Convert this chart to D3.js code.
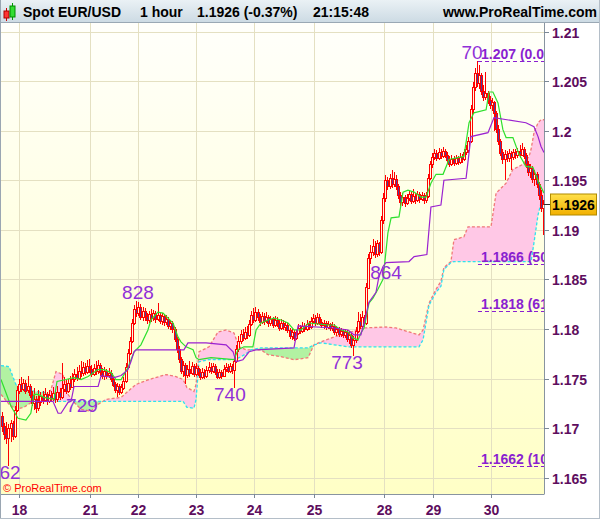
<!doctype html>
<html>
<head>
<meta charset="utf-8">
<title>Spot EUR/USD 1 hour</title>
<script src="https://d3js.org/d3.v7.min.js"></script>
<style>
body { margin: 0; background: #fff; }
svg { display: block; font-family: Arial, "Liberation Sans", sans-serif; }
</style>
</head>
<body>
<script>
// hourly candles, open = previous close
var firstOpen = 1.1712;
var closes = [1.1702,1.1694,1.1690,1.1700,1.1705,1.1692,1.1718,1.1738,1.1745,1.1740,
1.1746,1.1738,1.1742,1.1733,1.1725,1.1729,1.1720,1.1726,1.1732,1.1728,
1.1734,1.1727,1.1733,1.1730,1.1735,1.1729,1.1736,1.1731,1.1740,1.1745,
1.1738,1.1746,1.1742,1.1750,1.1755,1.1751,1.1758,1.1756,1.1762,1.1757,
1.1763,1.1760,1.1755,1.1761,1.1758,1.1764,1.1757,1.1753,1.1758,1.1754,
1.1756,1.1750,1.1744,1.1738,1.1742,1.1736,1.1741,1.1748,1.1762,1.1776,
1.1788,1.1806,1.1820,1.1816,1.1822,1.1812,1.1818,1.1813,1.1809,1.1815,
1.1811,1.1816,1.1810,1.1814,1.1808,1.1813,1.1807,1.1810,1.1803,1.1806,
1.1800,1.1790,1.1780,1.1770,1.1758,1.1764,1.1754,1.1760,1.1756,1.1763,
1.1755,1.1761,1.1757,1.1752,1.1757,1.1753,1.1759,1.1762,1.1758,1.1763,
1.1757,1.1752,1.1757,1.1753,1.1760,1.1762,1.1758,1.1763,1.1759,1.1768,
1.1780,1.1788,1.1795,1.1791,1.1797,1.1794,1.1805,1.1814,1.1809,1.1817,
1.1812,1.1807,1.1813,1.1808,1.1812,1.1806,1.1810,1.1804,1.1809,1.1806,
1.1801,1.1806,1.1802,1.1804,1.1799,1.1793,1.1797,1.1791,1.1796,1.1801,
1.1798,1.1803,1.1800,1.1805,1.1802,1.1808,1.1811,1.1806,1.1812,1.1807,
1.1804,1.1806,1.1802,1.1805,1.1801,1.1803,1.1797,1.1800,1.1795,1.1798,
1.1794,1.1797,1.1790,1.1794,1.1784,1.1789,1.1798,1.1808,1.1803,1.1812,
1.1806,1.1842,1.1872,1.1878,1.1884,1.1876,1.1887,1.1878,1.1910,1.1932,
1.1950,1.1944,1.1952,1.1946,1.1951,1.1944,1.1935,1.1928,1.1933,1.1927,
1.1932,1.1936,1.1929,1.1934,1.1930,1.1936,1.1931,1.1935,1.1930,1.1934,
1.1952,1.1966,1.1973,1.1977,1.1972,1.1978,1.1974,1.1979,1.1975,1.1970,
1.1966,1.1971,1.1967,1.1972,1.1968,1.1973,1.1971,1.1978,1.1981,1.1990,
1.2022,1.2044,1.2058,1.2048,1.2056,1.2040,1.2034,1.2038,1.2031,1.2026,
1.2029,1.2018,1.2002,1.1990,1.1978,1.1971,1.1976,1.1972,1.1977,1.1973,
1.1978,1.1975,1.1979,1.1976,1.1982,1.1975,1.1966,1.1958,1.1962,1.1951,
1.1956,1.1946,1.1935,1.1922,1.1926];
var highs = [1.1716,1.1705,1.1706,1.1704,1.1708,1.1707,1.1722,1.1742,1.1750,1.1752,
1.1750,1.1749,1.1753,1.1745,1.1737,1.1740,1.1732,1.1738,1.1736,1.1737,
1.1740,1.1736,1.1738,1.1737,1.1741,1.1738,1.1742,1.1740,1.1766,1.1752,
1.1749,1.1750,1.1753,1.1756,1.1760,1.1762,1.1764,1.1768,1.1767,1.1766,
1.1769,1.1770,1.1764,1.1765,1.1768,1.1769,1.1766,1.1761,1.1762,1.1760,
1.1761,1.1759,1.1752,1.1747,1.1746,1.1745,1.1744,1.1752,1.1766,1.1780,
1.1792,1.1810,1.1824,1.1828,1.1827,1.1825,1.1822,1.1821,1.1816,1.1818,
1.1820,1.1819,1.1818,1.1826,1.1817,1.1816,1.1815,1.1814,1.1812,1.1809,
1.1808,1.1802,1.1792,1.1783,1.1772,1.1768,1.1766,1.1764,1.1768,1.1767,
1.1765,1.1766,1.1763,1.1760,1.1761,1.1760,1.1763,1.1767,1.1766,1.1766,
1.1765,1.1760,1.1760,1.1759,1.1764,1.1766,1.1765,1.1766,1.1765,1.1772,
1.1784,1.1793,1.1799,1.1800,1.1802,1.1803,1.1809,1.1818,1.1821,1.1822,
1.1820,1.1815,1.1817,1.1816,1.1817,1.1814,1.1813,1.1812,1.1813,1.1812,
1.1809,1.1810,1.1809,1.1807,1.1806,1.1801,1.1800,1.1799,1.1799,1.1805,
1.1804,1.1807,1.1806,1.1809,1.1808,1.1812,1.1815,1.1814,1.1816,1.1815,
1.1810,1.1809,1.1808,1.1808,1.1806,1.1807,1.1805,1.1803,1.1802,1.1801,
1.1800,1.1800,1.1799,1.1798,1.1796,1.1793,1.1802,1.1817,1.1815,1.1818,
1.1814,1.1846,1.1876,1.1885,1.1891,1.1889,1.1890,1.1888,1.1914,1.1937,
1.1955,1.1953,1.1956,1.1960,1.1958,1.1955,1.1946,1.1938,1.1937,1.1935,
1.1936,1.1940,1.1938,1.1941,1.1937,1.1939,1.1938,1.1938,1.1937,1.1938,
1.1956,1.1969,1.1977,1.1982,1.1980,1.1983,1.1981,1.1984,1.1981,1.1978,
1.1974,1.1975,1.1974,1.1975,1.1974,1.1977,1.1976,1.1982,1.1986,1.1994,
1.2026,1.2049,1.2063,1.2070,1.2066,1.2058,1.2046,1.2059,1.2040,1.2035,
1.2033,1.2030,1.2020,1.2006,1.1992,1.1982,1.1980,1.1979,1.1981,1.1979,
1.1982,1.1981,1.1983,1.1986,1.1988,1.1984,1.1977,1.1969,1.1966,1.1964,
1.1960,1.1958,1.1948,1.1940,1.1930];
var lows = [1.1696,1.1688,1.1684,1.1662,1.1686,1.1688,1.1690,1.1716,1.1734,1.1736,
1.1737,1.1734,1.1735,1.1730,1.1722,1.1718,1.1715,1.1717,1.1722,1.1724,
1.1726,1.1723,1.1725,1.1726,1.1727,1.1725,1.1726,1.1728,1.1729,1.1736,
1.1734,1.1735,1.1738,1.1740,1.1747,1.1748,1.1749,1.1752,1.1753,1.1754,
1.1755,1.1756,1.1752,1.1753,1.1754,1.1755,1.1753,1.1750,1.1749,1.1750,
1.1751,1.1747,1.1741,1.1735,1.1731,1.1733,1.1734,1.1738,1.1746,1.1760,
1.1774,1.1786,1.1804,1.1812,1.1813,1.1809,1.1808,1.1808,1.1805,1.1806,
1.1807,1.1808,1.1806,1.1808,1.1805,1.1804,1.1803,1.1804,1.1800,1.1799,
1.1796,1.1787,1.1776,1.1766,1.1755,1.1752,1.1745,1.1751,1.1752,1.1754,
1.1752,1.1753,1.1753,1.1749,1.1750,1.1750,1.1751,1.1756,1.1755,1.1756,
1.1754,1.1750,1.1750,1.1750,1.1752,1.1757,1.1756,1.1756,1.1755,1.1740,
1.1766,1.1777,1.1785,1.1788,1.1789,1.1790,1.1792,1.1803,1.1806,1.1807,
1.1808,1.1803,1.1805,1.1804,1.1806,1.1802,1.1803,1.1801,1.1802,1.1802,
1.1798,1.1799,1.1799,1.1798,1.1796,1.1790,1.1789,1.1788,1.1789,1.1794,
1.1795,1.1796,1.1797,1.1798,1.1799,1.1800,1.1805,1.1803,1.1804,1.1804,
1.1801,1.1800,1.1799,1.1800,1.1798,1.1798,1.1794,1.1793,1.1792,1.1792,
1.1791,1.1791,1.1787,1.1785,1.1781,1.1773,1.1786,1.1796,1.1800,1.1801,
1.1802,1.1804,1.1840,1.1866,1.1874,1.1872,1.1873,1.1874,1.1876,1.1906,
1.1928,1.1940,1.1941,1.1942,1.1943,1.1940,1.1931,1.1924,1.1924,1.1923,
1.1925,1.1929,1.1926,1.1927,1.1926,1.1928,1.1927,1.1929,1.1926,1.1927,
1.1932,1.1950,1.1962,1.1970,1.1969,1.1970,1.1971,1.1972,1.1972,1.1967,
1.1963,1.1964,1.1964,1.1965,1.1965,1.1966,1.1967,1.1969,1.1975,1.1977,
1.1988,1.2018,1.2040,1.2044,1.2042,1.2036,1.2030,1.2031,1.2027,1.2022,
1.2020,1.2000,1.1998,1.1986,1.1974,1.1966,1.1950,1.1968,1.1968,1.1960,
1.1970,1.1971,1.1972,1.1972,1.1974,1.1971,1.1962,1.1954,1.1952,1.1947,
1.1944,1.1942,1.1930,1.1918,1.1895];
var lastPrice = 1.1926;

var dayIdx = [8.5, 42, 64.5, 91.5, 119, 147, 180, 203, 230];
var dayLabels = ["18", "21", "22", "23", "24", "25", "28", "29", "30"];
var priceTicks = [1.165, 1.17, 1.175, 1.18, 1.185, 1.19, 1.195, 1.2, 1.205, 1.21];

// Ichimoku: tenkan (green), kijun (purple), senkou A / B (cloud)
var tenkanIdx = [0,4.7,8,11.7,14,15.5,17.4,20.2,24.9,26.3,30.5,34.3,37.6,40.9,45.5,48.4,51.7,54,56.4,59.6,
62.5,65.7,69,70.4,73.7,76.1,78.4,80.8,83.1,84.5,86.9,90.2,91.6,93,98.6,109.4,111.3,114.1,118.3,119.8,
122.1,125.4,128.2,131.5,134.8,137.6,140.9,144.6,153.6,156.4,159.7,163,165.3,167.7,169,170.5,172.8,174.7,177,179.4,
181.7,183.2,186.9,188.8,191.1,194,197.2,199.6,201.9,204.3,207.6,210.4,215.1,217.4,219.8,222.1,227.8,229.2,231,233.4,
235.7,237.2,240.4,243.3,246.5,249.8,252.7,255];
var tenkanVal = [1.1749,1.1722,1.1710,1.1708,1.1715,1.1734,1.1734,1.1731,1.1729,1.1747,1.1749,1.1751,1.1749,1.1752,1.1759,1.1759,1.1756,1.1749,1.1749,1.1761,
1.1777,1.1784,1.1799,1.1809,1.1817,1.1816,1.1811,1.1806,1.1792,1.1787,1.1782,1.1779,1.1771,1.1769,1.1771,1.1769,1.1779,1.1782,1.1782,1.1799,
1.1806,1.1809,1.1811,1.1809,1.1806,1.1799,1.1799,1.1806,1.1804,1.1804,1.1799,1.1797,1.1791,1.1789,1.1796,1.1801,1.1826,1.1831,1.1840,1.1850,
1.1897,1.1912,1.1913,1.1938,1.1940,1.1938,1.1933,1.1933,1.1947,1.1956,1.1956,1.1971,1.1973,1.1974,1.2008,1.2018,1.2021,1.2039,1.2039,1.2028,
1.2001,1.1993,1.1993,1.1976,1.1964,1.1963,1.1947,1.1937];

var kijunIdx = [0,24.4,26.8,28.2,31.5,32.9,34.3,45.6,47,53.1,56.4,59.6,61,62.5,63.4,85.9,87.8,96.3,105.7,109,
110.4,113.6,116.5,119.8,137.6,139.5,156.4,163,165.8,169,170.5,172.8,176.1,177.5,179.4,180.8,191.6,194,200,201.9,
206.6,208,218.4,220.7,228.7,231.5,246.5,250.3,252.2,253.6,255];
var kijunVal = [1.1727,1.1727,1.1715,1.1715,1.1726,1.1727,1.1742,1.1742,1.1753,1.1751,1.1753,1.1759,1.1767,1.1777,1.1779,1.1779,1.1786,1.1786,1.1784,1.1777,
1.1767,1.1769,1.1777,1.1779,1.1781,1.1803,1.1801,1.1799,1.1794,1.1794,1.1806,1.1827,1.1837,1.1853,1.1863,1.1867,1.1868,1.1873,1.1875,1.1923,
1.1925,1.1950,1.1952,1.1994,1.1998,1.2013,1.2008,1.2004,1.1994,1.1984,1.1978];

var cloudIdx = [0,3.8,7,10.8,16.4,21.1,23.5,25.8,29.1,31.5,33.8,37.6,42.3,45.6,49.3,56.4,59.6,63.4,69.5,77.5,
82.2,85.5,87.3,90.6,91.6,93,97.7,101.9,105.7,109.4,111.8,115.1,117.4,122.1,125.4,131.5,137.6,144.2,147,150.3,
156.4,163,170,180.8,185.5,191.6,196.3,198.2,201,204.3,206.6,208,211.3,212.7,217.4,219.3,230.1,232.5,237.2,240.4,
245.1,248,248.9,250.3,252.2,253.6,255];
var spanA = [1.1734,1.1724,1.1719,1.1721,1.1729,1.1731,1.1739,1.1757,1.1754,1.1734,1.1727,1.1719,1.1717,1.1724,1.1729,1.1731,1.1737,1.1744,1.1749,1.1754,
1.1752,1.1749,1.1741,1.1737,1.1744,1.1777,1.1782,1.1797,1.1799,1.1796,1.1782,1.1779,1.1779,1.1779,1.1774,1.1772,1.1769,1.1771,1.1784,1.1787,
1.1792,1.1796,1.1801,1.1802,1.1801,1.1797,1.1794,1.1799,1.1826,1.1840,1.1848,1.1862,1.1868,1.1890,1.1893,1.1903,1.1903,1.1937,1.1947,1.1961,
1.1966,1.1974,1.1981,1.1998,1.2008,1.2011,1.2011];
var spanB = [1.1763,1.1762,1.1744,1.1739,1.1737,1.1736,1.1729,1.1727,1.1727,1.1727,1.1727,1.1727,1.1727,1.1727,1.1727,1.1727,1.1727,1.1727,1.1727,1.1727,
1.1727,1.1727,1.1721,1.1720,1.1729,1.1767,1.1769,1.1769,1.1769,1.1769,1.1771,1.1775,1.1779,1.1781,1.1781,1.1781,1.1781,1.1781,1.1784,1.1786,
1.1784,1.1782,1.1782,1.1782,1.1782,1.1782,1.1782,1.1789,1.1824,1.1837,1.1843,1.1860,1.1867,1.1868,1.1868,1.1868,1.1868,1.1868,1.1868,1.1868,
1.1868,1.1868,1.1868,1.1887,1.1915,1.1927,1.1928];

// fibonacci retracement levels
var fibStart = 224;
var fibPrices = [1.207, 1.1866, 1.1818, 1.1662];
var fibLabels = ["1.207 (0.0%)", "1.1866 (50.0%)", "1.1818 (61.8%)", "1.1662 (100.0%)"];

// swing labels
var swingIdx = [4.2, 38, 64.3, 107.5, 162.5, 180.8, 221.2];
var swingPrices = [1.1662, 1.1729, 1.1828, 1.1740, 1.1773, 1.1864, 1.2070];
var swingText = ["62", "729", "828", "740", "773", "864", "70"];
var swingKind = ["low", "low", "high", "low", "low", "low", "high"];

var W = 600, H = 519;
var plotL = 1, plotR = 544, plotT = 23, plotB = 494;

var svg = d3.select("body").append("svg").attr("width", W).attr("height", H);
var defs = svg.append("defs");

var bg = defs.append("linearGradient").attr("id", "bg").attr("x1", 0).attr("y1", 0).attr("x2", 0).attr("y2", 1);
bg.append("stop").attr("offset", "0%").attr("stop-color", "#fffffb");
bg.append("stop").attr("offset", "100%").attr("stop-color", "#ffffc6");
var hd = defs.append("linearGradient").attr("id", "hd").attr("x1", 0).attr("y1", 0).attr("x2", 0).attr("y2", 1);
hd.append("stop").attr("offset", "0%").attr("stop-color", "#eaf1f5");
hd.append("stop").attr("offset", "100%").attr("stop-color", "#cddbe4");
var gold = defs.append("linearGradient").attr("id", "gold").attr("x1", 0).attr("y1", 0).attr("x2", 0).attr("y2", 1);
gold.append("stop").attr("offset", "0%").attr("stop-color", "#ffe04a");
gold.append("stop").attr("offset", "100%").attr("stop-color", "#f2b000");

var x = d3.scaleLinear().domain([0, closes.length]).range([plotL, plotR]);
var y = d3.scaleLinear().domain([1.165, 1.21]).range([477.7, 31.5]);

defs.append("clipPath").attr("id", "plot").append("rect")
  .attr("x", plotL).attr("y", plotT).attr("width", plotR - plotL).attr("height", plotB - plotT);

var cloud = cloudIdx.map(function(d, i) { return { i: d, a: spanA[i], b: spanB[i] }; });

defs.append("clipPath").attr("id", "aboveB").append("path").datum(cloud)
  .attr("d", d3.area().x(function(d) { return x(d.i); }).y0(plotT).y1(function(d) { return y(d.b); }));
defs.append("clipPath").attr("id", "belowB").append("path").datum(cloud)
  .attr("d", d3.area().x(function(d) { return x(d.i); }).y0(function(d) { return y(d.b); }).y1(plotB));

// header
svg.append("rect").attr("x", 0).attr("y", 0).attr("width", W).attr("height", 22).attr("fill", "url(#hd)");
svg.append("line").attr("x1", 0).attr("x2", W).attr("y1", 22.5).attr("y2", 22.5).attr("stroke", "#9aa8b4");
var icon = svg.append("g");
icon.append("line").attr("x1", 6.5).attr("x2", 6.5).attr("y1", 8).attr("y2", 21).attr("stroke", "#c00");
icon.append("rect").attr("x", 4).attr("y", 11).attr("width", 5).attr("height", 7).attr("fill", "#f33").attr("stroke", "#a00");
icon.append("line").attr("x1", 12.5).attr("x2", 12.5).attr("y1", 3).attr("y2", 20).attr("stroke", "#090");
icon.append("rect").attr("x", 10).attr("y", 6).attr("width", 5).attr("height", 11).attr("fill", "#3d3").attr("stroke", "#080");

var hdr = svg.append("g").attr("font-size", 14).attr("font-weight", "bold").attr("fill", "#000");
hdr.append("text").attr("x", 23).attr("y", 17).text("Spot EUR/USD");
hdr.append("text").attr("x", 140).attr("y", 17).text("1 hour");
hdr.append("text").attr("x", 197).attr("y", 17).text("1.1926 (-0.37%)");
hdr.append("text").attr("x", 313).attr("y", 17).text("21:15:48");
hdr.append("text").attr("x", 597).attr("y", 17).attr("text-anchor", "end").text("www.ProRealTime.com");

// plot background and grid
svg.append("rect").attr("x", plotL).attr("y", plotT).attr("width", plotR - plotL).attr("height", plotB - plotT).attr("fill", "url(#bg)");

var plot = svg.append("g").attr("clip-path", "url(#plot)");

plot.selectAll(".hgrid").data(priceTicks).enter().append("line")
  .attr("x1", plotL).attr("x2", plotR)
  .attr("y1", function(d) { return Math.round(y(d)) + 0.5; }).attr("y2", function(d) { return Math.round(y(d)) + 0.5; })
  .attr("stroke", "#e4e0c2");
plot.selectAll(".vgrid").data(dayIdx).enter().append("line")
  .attr("y1", plotT).attr("y2", plotB)
  .attr("x1", function(d) { return Math.round(x(d)) + 0.5; }).attr("x2", function(d) { return Math.round(x(d)) + 0.5; })
  .attr("stroke", "#e4e0c2");

// cloud
var between = d3.area().x(function(d) { return x(d.i); })
  .y0(function(d) { return y(d.a); }).y1(function(d) { return y(d.b); });
plot.append("g").attr("clip-path", "url(#aboveB)").append("path").datum(cloud)
  .attr("d", between).attr("fill", "#ffc8e6");
plot.append("g").attr("clip-path", "url(#belowB)").append("path").datum(cloud)
  .attr("d", between).attr("fill", "#b2f2a2");
plot.append("path").datum(cloud)
  .attr("d", d3.line().x(function(d) { return x(d.i); }).y(function(d) { return y(d.a); }))
  .attr("fill", "none").attr("stroke", "#f07878").attr("stroke-width", 1.3).attr("stroke-dasharray", "3,2");
plot.append("path").datum(cloud)
  .attr("d", d3.line().x(function(d) { return x(d.i); }).y(function(d) { return y(d.b); }))
  .attr("fill", "none").attr("stroke", "#2fe0f0").attr("stroke-width", 1.3).attr("stroke-dasharray", "3,2");

// candles
var candles = closes.map(function(c, i) {
  return { i: i, o: i === 0 ? firstOpen : closes[i - 1], h: highs[i], l: lows[i], c: c };
});
var cg = plot.append("g").attr("shape-rendering", "crispEdges");
cg.selectAll(".wick").data(candles).enter().append("line")
  .attr("x1", function(d) { return Math.round(x(d.i + 0.5)) + 0.5; }).attr("x2", function(d) { return Math.round(x(d.i + 0.5)) + 0.5; })
  .attr("y1", function(d) { return y(Math.max(d.h, d.o, d.c)); })
  .attr("y2", function(d) { return y(Math.min(d.l, d.o, d.c)); })
  .attr("stroke", "#ff0000").attr("stroke-width", 1);
cg.selectAll(".body").data(candles).enter().append("rect")
  .attr("x", function(d) { return Math.round(x(d.i + 0.5)) - 0.5; })
  .attr("width", 2)
  .attr("y", function(d) { return Math.round(y(Math.max(d.o, d.c))) + 0.5; })
  .attr("height", function(d) { return Math.max(1, Math.round(Math.abs(y(d.o) - y(d.c)))); })
  .attr("fill", function(d) { return d.c < d.o ? "#4a3f9c" : "#fffbe0"; })
  .attr("stroke", "#ff0000").attr("stroke-width", 1);

// tenkan and kijun
plot.append("path").datum(tenkanIdx)
  .attr("d", d3.line().x(function(d) { return x(d); }).y(function(d, i) { return y(tenkanVal[i]); }))
  .attr("fill", "none").attr("stroke", "#2ee02e").attr("stroke-width", 1.2);
plot.append("path").datum(kijunIdx)
  .attr("d", d3.line().x(function(d) { return x(d); }).y(function(d, i) { return y(kijunVal[i]); }))
  .attr("fill", "none").attr("stroke", "#9a22d0").attr("stroke-width", 1.2);

// fibonacci levels
var fg = plot.append("g");
fibPrices.forEach(function(p, k) {
  fg.append("line").attr("x1", x(fibStart)).attr("x2", plotR)
    .attr("y1", Math.round(y(p)) + 0.5).attr("y2", Math.round(y(p)) + 0.5)
    .attr("stroke", "#8a1fd0").attr("stroke-width", 1.2).attr("stroke-dasharray", "4,3");
  fg.append("text").attr("x", x(fibStart) + 3).attr("y", y(p) - 2)
    .attr("font-size", 14).attr("font-weight", "bold").attr("fill", "#8a1fd0")
    .text(fibLabels[k]);
});

// swing labels
plot.selectAll(".swing").data(swingText).enter().append("text")
  .attr("x", function(d, k) { return x(swingIdx[k]); })
  .attr("y", function(d, k) { return swingKind[k] === "low" ? y(swingPrices[k]) + 13 : y(swingPrices[k]) - 2; })
  .attr("text-anchor", "middle").attr("font-size", 19).attr("fill", "#9030d8")
  .text(function(d) { return d; });

// copyright
svg.append("text").attr("x", 3).attr("y", 492).attr("font-size", 11).attr("fill", "#ff0000").text("\u00a9 ProRealTime.com");

// frame lines
svg.append("line").attr("x1", plotR + 0.5).attr("x2", plotR + 0.5).attr("y1", plotT).attr("y2", plotB).attr("stroke", "#8894a0");
svg.append("line").attr("x1", 0).attr("x2", plotR + 0.5).attr("y1", plotB + 0.5).attr("y2", plotB + 0.5).attr("stroke", "#8894a0");
svg.append("line").attr("x1", 0.5).attr("x2", 0.5).attr("y1", 0).attr("y2", H).attr("stroke", "#9aa6b2");
svg.append("line").attr("x1", W - 0.5).attr("x2", W - 0.5).attr("y1", 0).attr("y2", H).attr("stroke", "#b4bec8");
svg.append("line").attr("x1", 0).attr("x2", W).attr("y1", H - 0.5).attr("y2", H - 0.5).attr("stroke", "#b4bec8");

// right price axis
var yAxis = svg.append("g");
priceTicks.forEach(function(p) {
  var yy = Math.round(y(p)) + 0.5;
  yAxis.append("line").attr("x1", plotR).attr("x2", plotR + 5).attr("y1", yy).attr("y2", yy).attr("stroke", "#7a8896");
  yAxis.append("text").attr("x", 552).attr("y", yy + 5).attr("font-size", 14).attr("font-weight", "bold")
    .attr("fill", "#5e0e5e").text(String(+p.toFixed(3)));
});

// last price marker
var ly = Math.round(y(lastPrice)) + 0.5;
svg.append("line").attr("x1", plotR).attr("x2", 550).attr("y1", ly).attr("y2", ly).attr("stroke", "#333");
svg.append("rect").attr("x", 550.5).attr("y", ly - 10.5).attr("width", 46).attr("height", 21)
  .attr("fill", "url(#gold)").attr("stroke", "#b08a00");
svg.append("text").attr("x", 573.5).attr("y", ly + 5).attr("text-anchor", "middle")
  .attr("font-size", 14).attr("font-weight", "bold").attr("fill", "#000").text(lastPrice.toFixed(4));

// bottom day axis
var xAxis = svg.append("g");
dayIdx.forEach(function(d, k) {
  var xx = Math.round(x(d)) + 0.5;
  xAxis.append("line").attr("x1", xx).attr("x2", xx).attr("y1", plotB).attr("y2", plotB + 4).attr("stroke", "#7a8896");
  xAxis.append("text").attr("x", xx).attr("y", 515).attr("text-anchor", "middle")
    .attr("font-size", 14).attr("font-weight", "bold").attr("fill", "#5e0e5e").text(dayLabels[k]);
});
</script>
</body>
</html>
